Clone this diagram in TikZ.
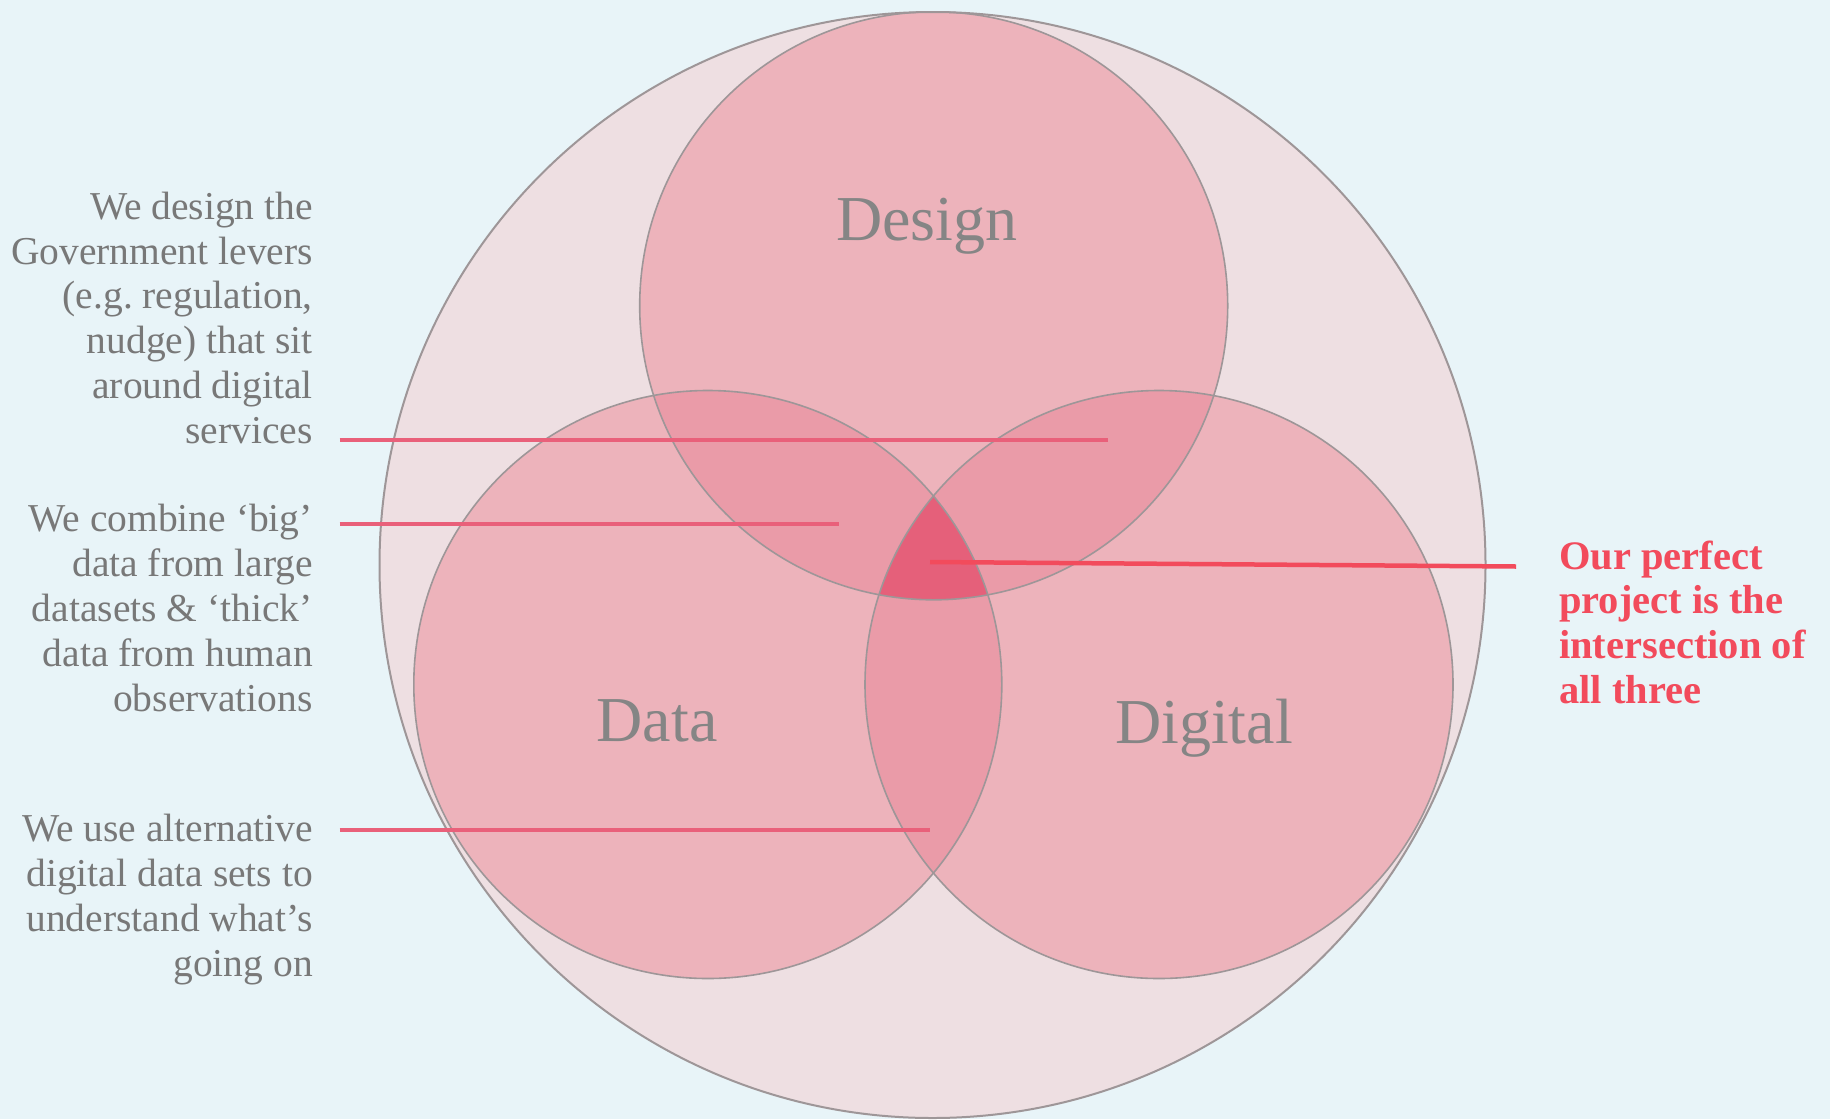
\documentclass[tikz,border=0pt]{standalone}
\usepackage{fontspec}
\setmainfont{Liberation Serif}
\usetikzlibrary{positioning}
\definecolor{bgblue}{HTML}{E8F4F8}
\definecolor{outerpink}{HTML}{EEDFE2}
\definecolor{vennpink}{HTML}{EDB3BB}
\definecolor{pairpink}{HTML}{EA9BA8}
\definecolor{triplepink}{HTML}{E5607A}
\definecolor{rimgray}{HTML}{9E9698}
\definecolor{textgray}{HTML}{787878}
\definecolor{labelgray}{HTML}{858585}
\definecolor{leadred}{HTML}{E9607A}
\definecolor{keyred}{HTML}{F24B5C}

\begin{document}
\begin{tikzpicture}[x=1pt,y=-1pt,
  rim/.style={draw=rimgray,line width=1.6pt},
  lead/.style={draw=leadred,line width=4pt},
  note/.style={text=textgray,align=right,anchor=base east,inner sep=0pt,
    font=\fontsize{39.5}{44.8}\selectfont},
  tag/.style={text=labelgray,anchor=base,inner sep=0pt,
    font=\fontsize{64}{70}\selectfont}
]
  \useasboundingbox (0,0) rectangle (1830,1119);
  \fill[bgblue] (0,0) rectangle (1830,1119);

  \coordinate (outer) at (932.5,565);
  \coordinate (design) at (933.7,305.8);
  \coordinate (data) at (707.8,684.5);
  \coordinate (digital) at (1159,684.5);

  % circles
  \fill[outerpink] (outer) circle[radius=553];
  \fill[vennpink] (design) circle[radius=294];
  \fill[vennpink] (data) circle[radius=294];
  \fill[vennpink] (digital) circle[radius=294];

  % overlaps
  \begin{scope}
    \clip (design) circle[radius=294];
    \fill[pairpink] (data) circle[radius=294];
    \fill[pairpink] (digital) circle[radius=294];
  \end{scope}
  \begin{scope}
    \clip (data) circle[radius=294];
    \fill[pairpink] (digital) circle[radius=294];
    \clip (design) circle[radius=294];
    \fill[triplepink] (digital) circle[radius=294];
  \end{scope}

  \draw[rim,line width=2pt] (outer) circle[radius=553];
  \draw[rim] (design) circle[radius=294];
  \draw[rim] (data) circle[radius=294];
  \draw[rim] (digital) circle[radius=294];

  \node[tag] (designlbl) at (927,240.7) {Design};
  \node[tag] (datalbl) at (657,741) {Data};
  \node[tag] (digitallbl) at (1204,743) {Digital};

  % notes on the left (base = last line)
  \node[note] (levers) at (313,443.3) {We design the\\Government levers\\(e.g.\ regulation,\\nudge) that sit\\around digital\\services};
  \node[note] (bigthick) at (313,711) {We combine ‘big’\\data from large\\datasets \& ‘thick’\\data from human\\observations};
  \node[note] (altdata) at (313,976.1) {We use alternative\\digital data sets to\\understand what’s\\going on};

  \node[text=keyred,align=left,anchor=base west,inner sep=0pt,
    font=\fontsize{40.5}{44.8}\selectfont\bfseries] (perfect) at (1559,703.4)
    {Our perfect\\project is the\\intersection of\\all three};

  % leader lines
  \coordinate (l1a) at (339.6,440);
  \coordinate (l1b) at (1107.6,440);
  \coordinate (l2a) at (339.6,524);
  \coordinate (l2b) at (839,524);
  \coordinate (l3a) at (339.6,830);
  \coordinate (l3b) at (930,830);
  \coordinate (l4a) at (930,562);
  \coordinate (l4b) at (1516,566.5);
  \draw[lead] (l1a) -- (l1b);
  \draw[lead] (l2a) -- (l2b);
  \draw[lead] (l3a) -- (l3b);
  \draw[lead,draw=keyred,line width=4.5pt] (l4a) -- (l4b);
\end{tikzpicture}
\end{document}
